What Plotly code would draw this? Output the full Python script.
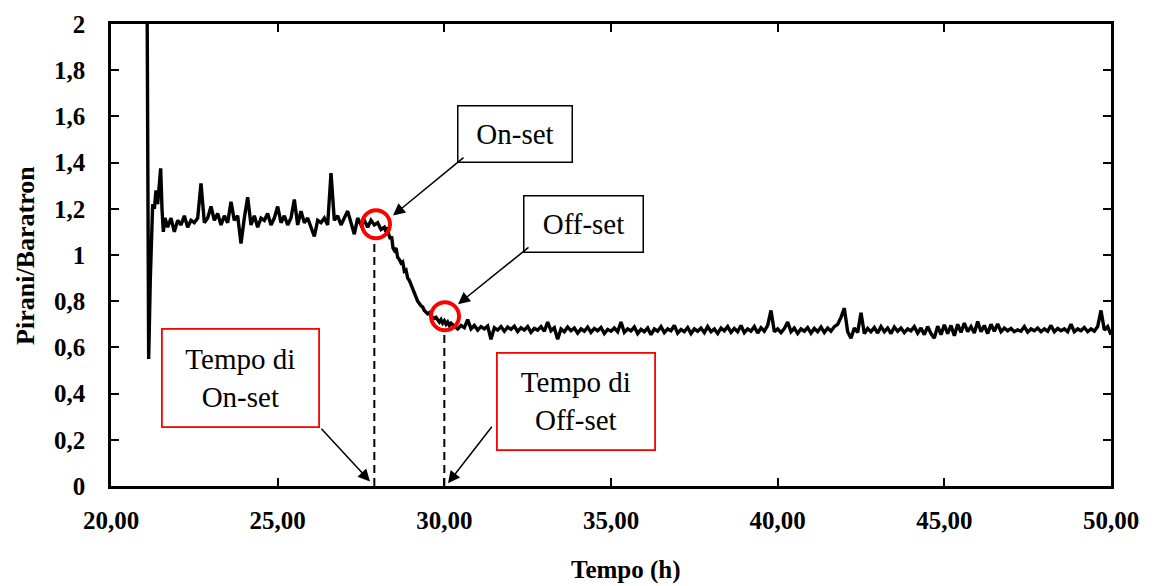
import plotly.graph_objects as go

# ---------------- data ----------------
tempo_avvio = [21.05, 21.08, 21.13, 21.18, 21.25, 21.30, 21.35, 21.40, 21.45, 21.49, 21.53, 21.57, 21.62]
rapporto_avvio = [3.20, 2.40, 0.55, 0.90, 1.22, 1.20, 1.28, 1.22, 1.30, 1.375, 1.20, 1.10, 1.16]

tempo_plateau = [21.7, 21.8, 21.9, 22.0, 22.1, 22.2, 22.3, 22.4, 22.5, 22.6,
                 22.7, 22.8, 22.9, 23.0, 23.1, 23.2, 23.3, 23.4, 23.5, 23.6,
                 23.7, 23.8, 23.9, 24.0, 24.1, 24.2, 24.3, 24.4, 24.5, 24.6,
                 24.7, 24.8, 24.9, 25.0, 25.1, 25.2, 25.3, 25.4, 25.5, 25.6,
                 25.7, 25.8, 25.9, 26.0, 26.1, 26.2, 26.3, 26.4, 26.5, 26.6,
                 26.7, 26.8, 26.9, 27.0, 27.1, 27.2, 27.3, 27.4, 27.5, 27.6,
                 27.7, 27.8, 27.9, 28.0, 28.1, 28.2]
rapporto_plateau = [1.12, 1.16, 1.10, 1.15, 1.13, 1.17, 1.12, 1.15, 1.14, 1.16,
                    1.31, 1.14, 1.16, 1.21, 1.15, 1.18, 1.13, 1.17, 1.14, 1.23,
                    1.15, 1.17, 1.05, 1.16, 1.25, 1.13, 1.17, 1.12, 1.16, 1.15,
                    1.18, 1.13, 1.16, 1.21, 1.14, 1.17, 1.13, 1.16, 1.24, 1.13,
                    1.19, 1.14, 1.16, 1.12, 1.08, 1.15, 1.14, 1.16, 1.13, 1.355,
                    1.15, 1.17, 1.13, 1.16, 1.19, 1.14, 1.09, 1.16, 1.13, 1.15,
                    1.12, 1.15, 1.13, 1.14, 1.11, 1.12]

tempo_discesa = [28.25, 28.3, 28.33, 28.38, 28.42, 28.46, 28.5, 28.55, 28.6, 28.65,
                 28.7, 28.75, 28.8, 28.85, 28.9, 28.95, 29.0, 29.05, 29.1, 29.15,
                 29.2, 29.3, 29.35, 29.4, 29.5, 29.55, 29.6, 29.7, 29.75, 29.8,
                 29.85, 29.9, 29.95, 30.0, 30.05, 30.1, 30.15, 30.2]
rapporto_discesa = [1.10, 1.12, 1.09, 1.07, 1.08, 1.03, 1.02, 1.03, 0.99, 0.98,
                    0.965, 0.97, 0.93, 0.935, 0.90, 0.89, 0.87, 0.86, 0.83, 0.82,
                    0.80, 0.78, 0.775, 0.76, 0.745, 0.75, 0.735, 0.725, 0.73, 0.72,
                    0.71, 0.72, 0.705, 0.715, 0.70, 0.71, 0.695, 0.705]

tempo_finale = [30.3, 30.4, 30.5, 30.6, 30.7, 30.8, 30.9, 31.0, 31.1, 31.2,
                31.3, 31.4, 31.5, 31.6, 31.7, 31.8, 31.9, 32.0, 32.1, 32.2,
                32.3, 32.4, 32.5, 32.6, 32.7, 32.8, 32.9, 33.0, 33.1, 33.2,
                33.3, 33.4, 33.5, 33.6, 33.7, 33.8, 33.9, 34.0, 34.1, 34.2,
                34.3, 34.4, 34.5, 34.6, 34.7, 34.8, 34.9, 35.0, 35.1, 35.2,
                35.3, 35.4, 35.5, 35.6, 35.7, 35.8, 35.9, 36.0, 36.1, 36.2,
                36.3, 36.4, 36.5, 36.6, 36.7, 36.8, 36.9, 37.0, 37.1, 37.2,
                37.3, 37.4, 37.5, 37.6, 37.7, 37.8, 37.9, 38.0, 38.1, 38.2,
                38.3, 38.4, 38.5, 38.6, 38.7, 38.8, 38.9, 39.0, 39.1, 39.2,
                39.3, 39.4, 39.5, 39.6, 39.7, 39.8, 39.9, 40.0, 40.1, 40.2,
                40.3, 40.4, 40.5, 40.6, 40.7, 40.8, 40.9, 41.0, 41.1, 41.2,
                41.3, 41.4, 41.5, 41.6, 41.7, 41.8, 41.9, 42.0, 42.1, 42.2,
                42.3, 42.4, 42.5, 42.6, 42.7, 42.8, 42.9, 43.0, 43.1, 43.2,
                43.3, 43.4, 43.5, 43.6, 43.7, 43.8, 43.9, 44.0, 44.1, 44.2,
                44.3, 44.4, 44.5, 44.6, 44.7, 44.8, 44.9, 45.0, 45.1, 45.2,
                45.3, 45.4, 45.5, 45.6, 45.7, 45.8, 45.9, 46.0, 46.1, 46.2,
                46.3, 46.4, 46.5, 46.6, 46.7, 46.8, 46.9, 47.0, 47.1, 47.2,
                47.3, 47.4, 47.5, 47.6, 47.7, 47.8, 47.9, 48.0, 48.1, 48.2,
                48.3, 48.4, 48.5, 48.6, 48.7, 48.8, 48.9, 49.0, 49.1, 49.2,
                49.3, 49.4, 49.5, 49.6, 49.7, 49.8, 49.9, 50.0]
rapporto_finale = [0.690, 0.680, 0.695, 0.685, 0.720, 0.680, 0.695, 0.675, 0.690, 0.680,
                   0.692, 0.635, 0.685, 0.675, 0.690, 0.670, 0.688, 0.678, 0.692, 0.668,
                   0.685, 0.675, 0.690, 0.665, 0.682, 0.675, 0.690, 0.670, 0.710, 0.672,
                   0.685, 0.635, 0.680, 0.668, 0.688, 0.672, 0.684, 0.662, 0.680, 0.670,
                   0.688, 0.665, 0.682, 0.672, 0.686, 0.660, 0.678, 0.670, 0.684, 0.668,
                   0.710, 0.665, 0.680, 0.672, 0.688, 0.660, 0.678, 0.668, 0.684, 0.655,
                   0.680, 0.670, 0.690, 0.664, 0.680, 0.672, 0.695, 0.662, 0.678, 0.668,
                   0.686, 0.660, 0.680, 0.670, 0.684, 0.664, 0.690, 0.668, 0.680, 0.660,
                   0.684, 0.672, 0.690, 0.665, 0.682, 0.668, 0.695, 0.664, 0.680, 0.670,
                   0.690, 0.662, 0.685, 0.670, 0.695, 0.760, 0.668, 0.680, 0.664, 0.682,
                   0.710, 0.668, 0.684, 0.660, 0.680, 0.670, 0.686, 0.662, 0.682, 0.668,
                   0.688, 0.665, 0.684, 0.670, 0.690, 0.700, 0.730, 0.770, 0.668, 0.640,
                   0.684, 0.665, 0.750, 0.660, 0.682, 0.668, 0.686, 0.662, 0.690, 0.668,
                   0.684, 0.660, 0.688, 0.670, 0.684, 0.664, 0.680, 0.672, 0.690, 0.662,
                   0.684, 0.655, 0.690, 0.660, 0.640, 0.692, 0.655, 0.698, 0.660, 0.695,
                   0.650, 0.700, 0.665, 0.705, 0.668, 0.690, 0.662, 0.712, 0.668, 0.695,
                   0.660, 0.700, 0.670, 0.702, 0.668, 0.684, 0.672, 0.682, 0.668, 0.676,
                   0.670, 0.690, 0.666, 0.680, 0.672, 0.684, 0.668, 0.680, 0.670, 0.695,
                   0.668, 0.682, 0.672, 0.680, 0.668, 0.700, 0.668, 0.680, 0.672, 0.686,
                   0.668, 0.680, 0.670, 0.690, 0.760, 0.675, 0.690, 0.655]

# on-set / off-set markers
tempo_onset = 27.9
tempo_offset = 30.0
cerchio_onset = (27.95, 1.133)
cerchio_offset = (30.02, 0.735)
tratteggio_onset_alto = 1.06
tratteggio_offset_alto = 0.67

# axis ticks
y_tickvals = [0, 0.2, 0.4, 0.6, 0.8, 1.0, 1.2, 1.4, 1.6, 1.8, 2.0]
y_ticktext = ["0", "0,2", "0,4", "0,6", "0,8", "1", "1,2", "1,4", "1,6", "1,8", "2"]
x_tickvals = [20, 25, 30, 35, 40, 45, 50]
x_ticktext = ["20,00", "25,00", "30,00", "35,00", "40,00", "45,00", "50,00"]

tempo = tempo_avvio + tempo_plateau + tempo_discesa + tempo_finale
rapporto = rapporto_avvio + rapporto_plateau + rapporto_discesa + rapporto_finale

SERIF = "Liberation Serif, Times New Roman, serif"

fig = go.Figure()

# dashed vertical guides
fig.add_trace(go.Scatter(x=[tempo_onset, tempo_onset], y=[0, tratteggio_onset_alto],
                         mode="lines", line=dict(color="black", width=2, dash="8px,5px"),
                         showlegend=False, hoverinfo="skip"))
fig.add_trace(go.Scatter(x=[tempo_offset, tempo_offset], y=[0, tratteggio_offset_alto],
                         mode="lines", line=dict(color="black", width=2, dash="8px,5px"),
                         showlegend=False, hoverinfo="skip"))

# main signal
fig.add_trace(go.Scatter(x=tempo, y=rapporto, mode="lines",
                         line=dict(color="black", width=3.4), showlegend=False))

# red circles
fig.add_trace(go.Scatter(x=[cerchio_onset[0], cerchio_offset[0]],
                         y=[cerchio_onset[1], cerchio_offset[1]],
                         mode="markers",
                         marker=dict(symbol="circle-open", size=28, color="#ff0000",
                                     line=dict(color="#ff0000", width=4)),
                         showlegend=False, hoverinfo="skip"))

ann = []
# black text boxes
ann.append(dict(x=32.105, y=1.525, xref="x", yref="y", text="On-set", showarrow=False,
                font=dict(family=SERIF, size=29, color="black"),
                bordercolor="black", borderwidth=1.5, borderpad=0, bgcolor="white",
                width=113, height=55, xanchor="center", yanchor="middle"))
ann.append(dict(x=34.16, y=1.135, xref="x", yref="y", text="Off-set", showarrow=False,
                font=dict(family=SERIF, size=29, color="black"),
                bordercolor="black", borderwidth=1.5, borderpad=0, bgcolor="white",
                width=118, height=55, xanchor="center", yanchor="middle"))
# red text boxes
ann.append(dict(x=23.87, y=0.466, xref="x", yref="y", text="Tempo di<br>On-set", showarrow=False,
                font=dict(family=SERIF, size=29, color="black"),
                bordercolor="#ff0000", borderwidth=1.8, borderpad=0, bgcolor="white",
                width=155, height=96, xanchor="center", yanchor="middle"))
ann.append(dict(x=33.95, y=0.364, xref="x", yref="y", text="Tempo di<br>Off-set", showarrow=False,
                font=dict(family=SERIF, size=29, color="black"),
                bordercolor="#ff0000", borderwidth=1.8, borderpad=0, bgcolor="white",
                width=156, height=95, xanchor="center", yanchor="middle"))

# arrows (head x,y ; tail ax,ay)
arrows = [
    ((28.46, 1.171), (30.62, 1.427)),
    ((30.41, 0.787), (32.57, 1.038)),
    ((27.77, 0.02), (26.27, 0.254)),
    ((30.11, 0.012), (31.46, 0.263)),
]
for (hx, hy), (tx, ty) in arrows:
    ann.append(dict(x=hx, y=hy, ax=tx, ay=ty, xref="x", yref="y", axref="x", ayref="y",
                    text="", showarrow=True, arrowhead=2, arrowsize=1.6, arrowwidth=1.5,
                    arrowcolor="black", standoff=0))

# axis titles
ann.append(dict(x=0.515, y=-0.182, xref="paper", yref="paper", text="<b>Tempo (h)</b>",
                showarrow=False, font=dict(family=SERIF, size=25, color="black"),
                xanchor="center", yanchor="middle"))
ann.append(dict(x=-0.085, y=0.498, xref="paper", yref="paper", text="<b>Pirani/Baratron</b>",
                showarrow=False, font=dict(family=SERIF, size=26, color="black"),
                textangle=-90, xanchor="center", yanchor="middle"))

fig.update_layout(
    width=1154, height=586,
    margin=dict(l=111, r=43, t=24, b=100),
    plot_bgcolor="white", paper_bgcolor="white",
    annotations=ann,
    showlegend=False,
)
fig.update_xaxes(range=[20, 50], tickvals=x_tickvals,
                 ticktext=["<b>%s</b>" % t for t in x_ticktext],
                 showgrid=False, zeroline=False, showline=True, linecolor="black", linewidth=2.5,
                 mirror="ticks", ticks="inside", ticklen=8, tickwidth=2, tickcolor="black",
                 tickfont=dict(family=SERIF, size=25, color="black"),
                 ticklabelstandoff=10)
fig.update_yaxes(range=[0, 2], tickvals=y_tickvals,
                 ticktext=["<b>%s</b>" % t for t in y_ticktext],
                 showgrid=False, zeroline=False, showline=True, linecolor="black", linewidth=2.5,
                 mirror="ticks", ticks="inside", ticklen=8, tickwidth=2, tickcolor="black",
                 tickfont=dict(family=SERIF, size=25, color="black"),
                 ticklabelstandoff=18)

fig.write_html("out.html")
